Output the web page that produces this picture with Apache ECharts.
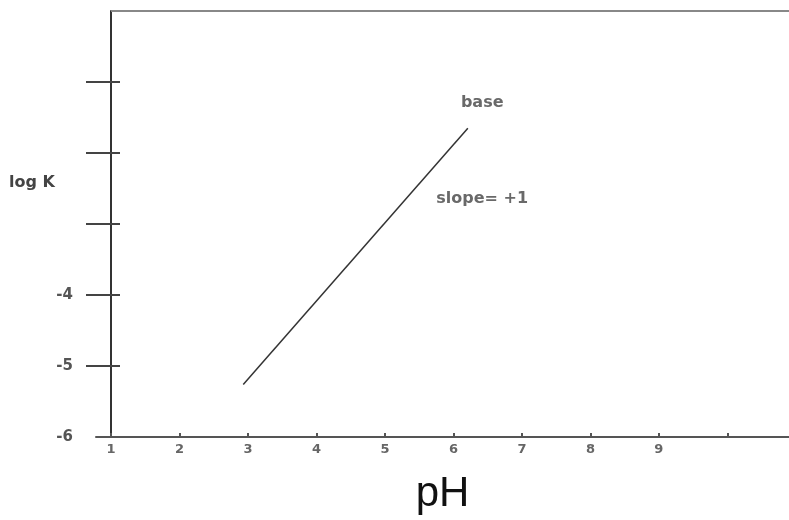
<!DOCTYPE html>
<html><head><meta charset="utf-8">
<script src="https://cdn.jsdelivr.net/npm/echarts@6/dist/echarts.min.js"></script>
<style>html,body{margin:0;padding:0;background:#fff}#c{width:789px;height:520px}</style>
</head><body><div id="c"></div>
<script>
// data
const lineData = [[2.93, -5.26], [6.21, -1.65]];
const xTickValues = [1, 2, 3, 4, 5, 6, 7, 8, 9, 10];
const xLabelValues = [1, 2, 3, 4, 5, 6, 7, 8, 9];
const yTickValues = [-5, -4, -3, -2, -1];
const yLabelValues = [-6, -5, -4];
const annotations = [
  { name: 'base', value: [6.42, -1.30] },
  { name: 'slope= +1', value: [6.42, -2.65] }
];
const xMin = 0.78, xMax = 10.9, yMin = -6, yMax = 0;

const chart = echarts.init(document.getElementById('c'));
chart.setOption({
  animation: false,
  backgroundColor: '#fff',
  grid: { left: 96, right: 0, top: 11, bottom: 81 },
  xAxis: {
    type: 'value', min: xMin, max: xMax,
    name: 'pH', nameLocation: 'middle', nameGap: 36,
    nameTextStyle: { fontFamily: 'Liberation Sans', fontSize: 42, color: '#111' },
    axisLine: { show: true, onZero: false, lineStyle: { color: '#555', width: 2 } },
    axisTick: { show: true, inside: true, length: 4, customValues: xTickValues, lineStyle: { color: '#555', width: 2 } },
    axisLabel: { customValues: xLabelValues, margin: 6, fontFamily: 'DejaVu Sans', fontWeight: 'bold', fontSize: 13, color: '#666' },
    splitLine: { show: false }
  },
  yAxis: [{
    type: 'value', min: yMin, max: yMax, offset: -15,
    axisLine: { show: true, onZero: false, lineStyle: { color: '#333', width: 2 } },
    axisTick: { show: true, length: 25, customValues: yTickValues, lineStyle: { color: '#444', width: 2 } },
    axisLabel: { customValues: yLabelValues, margin: 38, fontFamily: 'DejaVu Sans', fontWeight: 'bold', fontSize: 15, color: '#555' },
    splitLine: { show: false }
  }, {
    type: 'value', min: yMin, max: yMax, offset: -15, position: 'left',
    axisLine: { show: false },
    axisTick: { show: true, inside: true, length: 9, customValues: yTickValues, lineStyle: { color: '#444', width: 2 } },
    axisLabel: { show: false },
    splitLine: { show: false }
  }],
  graphic: [{
    type: 'text', left: 9, top: 175,
    style: { text: 'log K', fontFamily: 'DejaVu Sans', fontWeight: 'bold', fontSize: 16, fill: '#444' }
  }],
  series: [{
    type: 'line', data: lineData, symbol: 'none',
    lineStyle: { color: '#333', width: 1.5 },
    markLine: {
      silent: true, symbol: 'none', label: { show: false },
      lineStyle: { color: '#888', width: 2, type: 'solid' },
      data: [[{ coord: [1, yMax] }, { coord: [xMax, yMax] }]]
    }
  }, {
    type: 'scatter', data: annotations, symbolSize: 0,
    label: { show: true, position: 'inside', formatter: '{b}', fontFamily: 'DejaVu Sans', fontWeight: 'bold', fontSize: 16, color: '#444' }
  }]
});
</script></body></html>
